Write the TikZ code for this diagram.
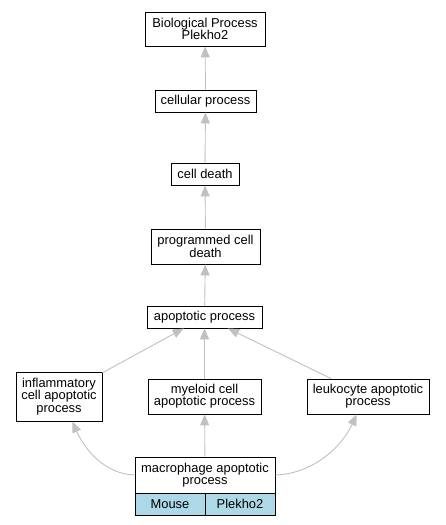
\documentclass[tikz,border=0pt]{standalone}
\usepackage{fontspec}
\setmainfont{Liberation Sans}
\usetikzlibrary{arrows.meta}
\definecolor{edgegray}{HTML}{C0C0C0}
\definecolor{celblue}{HTML}{ADD8E6}
\begin{document}
\begin{tikzpicture}[x=1pt, y=-1pt,
		term/.style={draw, line width=0.9pt, inner sep=0pt, align=center,
			font=\fontsize{12.9}{12.3}\selectfont},
		cell/.style={term, fill=celblue, minimum width=70pt, minimum height=22pt},
		edge/.style={draw=edgegray, line width=0.9pt,
			-{Triangle[length=11pt, width=9pt, fill=edgegray]}}]
		\useasboundingbox (0,0) rectangle (445,525);
		
		% chain from the root down
		\node[term, minimum width=120pt, minimum height=34pt] (bp) at (205,29) {Biological Process\\Plekho2};
		\node[term, minimum width=101pt, minimum height=22pt] (cp) at (205.5,101) {cellular process};
		\node[term, minimum width=68pt, minimum height=22pt] (cd) at (205,174) {cell death};
		\node[term, minimum width=109pt, minimum height=35pt] (pcd) at (205.5,246.5) {programmed cell\\death};
		\node[term, minimum width=115pt, minimum height=22pt] (ap) at (204.5,317) {apoptotic process};
		
		% three children of apoptotic process
		\node[term, minimum width=86pt, minimum height=49pt] (inf) at (59,396.5) {inflammatory\\cell apoptotic\\process};
		\node[term, minimum width=113pt, minimum height=35pt] (mye) at (204.5,396.5) {myeloid cell\\apoptotic process};
		\node[term, minimum width=122pt, minimum height=35pt] (leu) at (368,396.5) {leukocyte apoptotic\\process};
		
		% annotated term with its cells
		\node[term, minimum width=140pt, minimum height=36pt] (mac) at (205,475) {macrophage apoptotic\\process};
		\node[cell] (mouse) at (170,504) {Mouse};
		\node[cell] (gene) at (240,504) {Plekho2};
		
		% is_a links
		\draw[edge] (cp) -- (bp);
		\draw[edge] (cd) -- (cp);
		\draw[edge] (pcd) -- (cd);
		\draw[edge] (ap) -- (pcd);
		\draw[edge] (inf) -- (ap);
		\draw[edge] (mye) -- (ap);
		\draw[edge] (leu) -- (ap);
		\draw[edge] (mac) -- (mye);
		\draw[edge] (mac.west) .. controls (105,474) and (85,450) .. (inf.-62);
		\draw[edge] (mac.east) .. controls (310,474) and (340,450) .. (leu.-122);
	\end{tikzpicture}
\end{document}
